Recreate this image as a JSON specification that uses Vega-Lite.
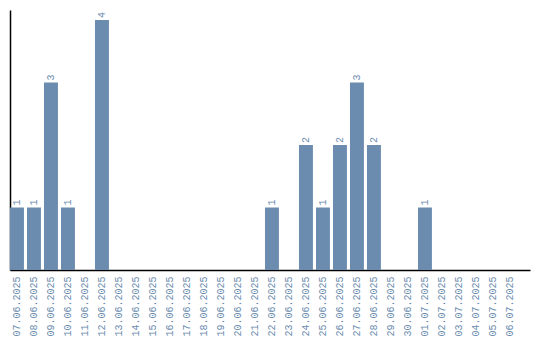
{
  "$schema": "https://vega.github.io/schema/vega-lite/v6.json",
  "width": 520,
  "height": 260,
  "autosize": "none",
  "padding": {"left": 10, "top": 10, "right": 10, "bottom": 70},
  "background": "white",
  "config": {"view": {"stroke": null}},
  "data": {"values": [
    {"date": "07.06.2025", "count": 1},
    {"date": "08.06.2025", "count": 1},
    {"date": "09.06.2025", "count": 3},
    {"date": "10.06.2025", "count": 1},
    {"date": "11.06.2025", "count": 0},
    {"date": "12.06.2025", "count": 4},
    {"date": "13.06.2025", "count": 0},
    {"date": "14.06.2025", "count": 0},
    {"date": "15.06.2025", "count": 0},
    {"date": "16.06.2025", "count": 0},
    {"date": "17.06.2025", "count": 0},
    {"date": "18.06.2025", "count": 0},
    {"date": "19.06.2025", "count": 0},
    {"date": "20.06.2025", "count": 0},
    {"date": "21.06.2025", "count": 0},
    {"date": "22.06.2025", "count": 1},
    {"date": "23.06.2025", "count": 0},
    {"date": "24.06.2025", "count": 2},
    {"date": "25.06.2025", "count": 1},
    {"date": "26.06.2025", "count": 2},
    {"date": "27.06.2025", "count": 3},
    {"date": "28.06.2025", "count": 2},
    {"date": "29.06.2025", "count": 0},
    {"date": "30.06.2025", "count": 0},
    {"date": "01.07.2025", "count": 1},
    {"date": "02.07.2025", "count": 0},
    {"date": "03.07.2025", "count": 0},
    {"date": "04.07.2025", "count": 0},
    {"date": "05.07.2025", "count": 0},
    {"date": "06.07.2025", "count": 0}
  ]},
  "encoding": {
    "x": {
      "field": "date", "type": "nominal", "sort": null,
      "scale": {"paddingInner": 0.18, "paddingOuter": 0.385, "align": 0},
      "axis": {
        "title": null, "ticks": false, "labelAngle": 270, "labelAlign": "right", "labelBaseline": "middle",
        "labelPadding": 6, "labelFont": "Liberation Mono", "labelFontSize": 10, "labelColor": "#6b8cae",
        "domainColor": "#000000", "domainWidth": 1.5, "grid": false
      }
    },
    "y": {
      "field": "count", "type": "quantitative",
      "scale": {"domain": [0, 4.16], "nice": false},
      "axis": {"title": null, "labels": false, "ticks": false, "grid": false, "domainColor": "#000000", "domainWidth": 1.5}
    }
  },
  "layer": [
    {"mark": {"type": "bar", "color": "#6b8cae"}},
    {
      "transform": [{"filter": "datum.count > 0"}],
      "mark": {"type": "text", "angle": 270, "align": "left", "baseline": "middle", "dx": 2, "font": "Liberation Mono", "fontSize": 10, "color": "#6b8cae"},
      "encoding": {"text": {"field": "count", "type": "quantitative"}}
    }
  ]
}
